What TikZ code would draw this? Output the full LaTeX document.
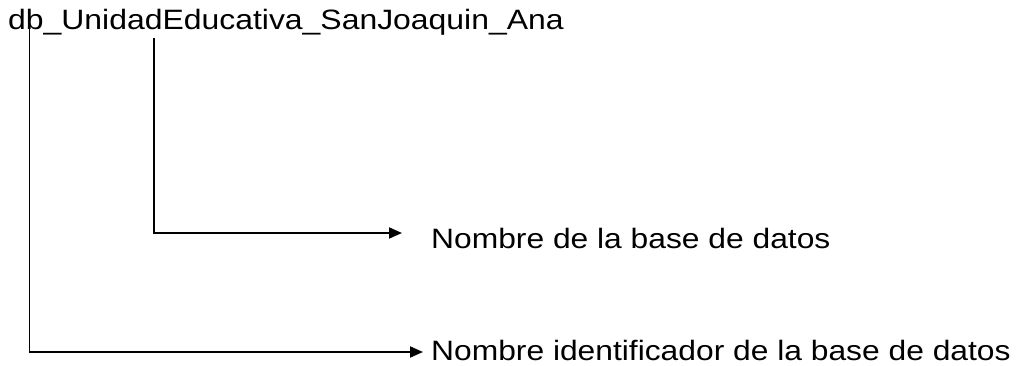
\documentclass[tikz,border=0pt]{standalone}
\usepackage{fontspec}
\setmainfont{Liberation Sans}
\newfontfamily\titlefont[FakeStretch=1.14]{Liberation Sans}
\newfontfamily\labelfont[FakeStretch=1.135]{Liberation Sans}
\usetikzlibrary{arrows.meta,positioning}

\begin{document}
\begin{tikzpicture}[x=1pt,y=-1pt,
	txt/.style={inner sep=0pt, anchor=base west, font=\labelfont\fontsize{28}{34}\selectfont},
	conn/.style={line width=1.8pt, -{Triangle[length=13pt,width=11pt]}}]
	\useasboundingbox (0,0) rectangle (1021,366);
	\path (8,29.5) node (db) [txt, font=\titlefont\fontsize{28}{34}\selectfont] {db\_UnidadEducativa\_SanJoaquin\_Ana}
		  (431,248.5) node (nombre) [txt] {Nombre de la base de datos}
		  (431,360.5) node (ident) [txt] {Nombre identificador de la base de datos};
	\coordinate (idtop) at (29.5,23);
	\coordinate (idend) at (423,352);
	\coordinate (nametop) at (154,38);
	\coordinate (nameend) at (402,233);
	\draw[conn] (nametop) |- (nameend);
	\draw[conn] (idtop) |- (idend);
\end{tikzpicture}
\end{document}
